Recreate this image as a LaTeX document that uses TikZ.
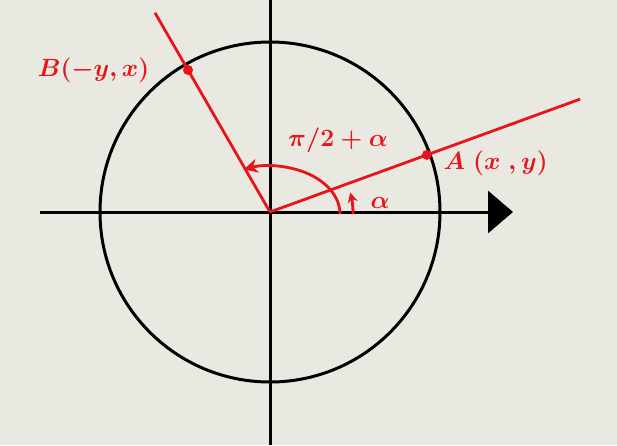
\documentclass[tikz,border=0pt]{standalone}
\usepackage{amsmath}
\usetikzlibrary{arrows.meta}
\definecolor{paper}{HTML}{E9E9E1}
\definecolor{pen}{HTML}{E8141A}
\tikzset{
  axis/.style = {black, line width=3pt},
  ray/.style = {pen, line width=2.8pt},
  lbl/.style = {pen, font=\fontsize{28}{30}\selectfont\boldmath},
  dot/.style = {circle, fill=pen, inner sep=0pt, minimum size=10pt}
}
\begin{document}
\begin{tikzpicture}[x=1pt, y=1pt]
	\fill[paper] (-270,-233) rectangle (347,212);
	\useasboundingbox (-270,-233) rectangle (347,212);
	\coordinate (O) at (0,0);
	\coordinate (xl) at (-230,0);
	\coordinate (xr) at (243,0);
	\coordinate (yt) at (0,212);
	\coordinate (yb) at (0,-233);
	\coordinate (ea) at (20:330);
	\coordinate (eb) at (120:230);
	% circle and axes
	\draw[axis] (O) circle (170);
	\draw[axis, -{Triangle[length=25pt, width=42pt]}] (xl) -- (xr);
	\draw[axis] (yb) -- (yt);
	% the two rays
	\draw[ray] (O) -- (ea);
	\draw[ray] (O) -- (eb);
	\node[dot] (A) at (20:167) {};
	\node[dot] (B) at (120:164) {};
	\node[lbl, anchor=west] (la) at ([xshift=8pt, yshift=-8pt]A.east) {$A\;(x\;,y)$};
	\node[lbl, anchor=east] (lb) at ([xshift=-30pt, yshift=0pt]B.west) {$B(-y,x)$};
	% angles
	\draw[ray, -{Stealth[length=14pt, width=14pt]}] (70,-2) arc[start angle=0, end angle=112, x radius=70, y radius=48];
	\draw[ray, -{Stealth[length=10pt, width=10pt]}] (83,-2) arc[start angle=0, end angle=15, radius=83];
	\node[lbl] (al) at (110,9) {$\alpha$};
	\node[lbl] (ab) at (68,72) {$\pi/2+\alpha$};
\end{tikzpicture}
\end{document}
